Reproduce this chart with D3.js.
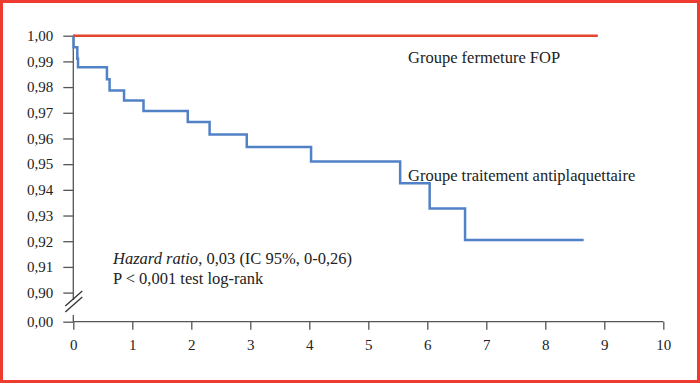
<!DOCTYPE html>
<html><head><meta charset="utf-8">
<script src="https://cdn.jsdelivr.net/npm/d3@7/dist/d3.min.js"></script>
<style>html,body{margin:0;padding:0;background:#fff;}svg{display:block;}
svg text{font-family:"Liberation Serif","Times New Roman",Times,"DejaVu Serif",serif;}</style>
</head><body><svg id="c" width="700" height="383"></svg>
<script>
// Data
const fopTimes = [0, 8.89];
const fopSurv = [1.0, 1.0];
const antiTimes = [0, 0.005, 0.068, 0.08, 0.57, 0.615, 0.86, 1.19, 1.94, 2.31, 2.94, 4.03, 5.54, 6.04, 6.64, 8.65];
const antiSurv  = [1.0, 0.9955, 0.991, 0.9877, 0.983, 0.9787, 0.9748, 0.9707, 0.9664, 0.9615, 0.9567, 0.9510, 0.9426, 0.9327, 0.9205, 0.9205];
const xTicks = [0,1,2,3,4,5,6,7,8,9,10];
const yTicks = [0, 0.90, 0.91, 0.92, 0.93, 0.94, 0.95, 0.96, 0.97, 0.98, 0.99, 1.00];
const labelFop = "Groupe fermeture FOP";
const labelAnti = "Groupe traitement antiplaquettaire";

const svg = d3.select("#c");
const axisCol = "#555";

// border
svg.append("rect").attr("x",1.5).attr("y",1.5).attr("width",697).attr("height",380)
  .attr("fill","none").attr("stroke","#ee3b2f").attr("stroke-width",3);

const x = d3.scaleLinear().domain([0,10]).range([73.3,663.3]);
const y = d3.scaleLinear().domain([0,0.90,1.00]).range([321.7,292.6,35.7]);
const loc = d3.formatLocale({decimal:",", thousands:" ", grouping:[3], currency:["",""]});
const fmt = loc.format(".2f");

// x axis
const gx = svg.append("g").attr("transform",`translate(0,${y(0)})`)
  .call(d3.axisBottom(x).tickValues(xTicks).tickSize(8).tickPadding(10).tickFormat(d3.format("d")));
gx.attr("font-family",null);
gx.select(".domain").attr("stroke",axisCol).attr("stroke-width",1.3).attr("d",`M${x(0)},0H${x(10)}`);
gx.selectAll(".tick line").attr("stroke",axisCol).attr("stroke-width",1.3);
gx.selectAll(".tick text").attr("font-size",15).attr("fill","#222");

// y axis (ticks only, break drawn separately)
const gy = svg.append("g").attr("transform",`translate(${x(0)},0)`)
  .call(d3.axisLeft(y).tickValues(yTicks).tickSize(10).tickPadding(10).tickFormat(fmt));
gy.attr("font-family",null);
gy.select(".domain").remove();
gy.selectAll(".tick line").attr("stroke",axisCol).attr("stroke-width",1.3);
gy.selectAll(".tick text").attr("font-size",15).attr("fill","#222");
const x0 = x(0);
svg.append("line").attr("x1",x0).attr("x2",x0).attr("y1",y(1.0)).attr("y2",300)
  .attr("stroke",axisCol).attr("stroke-width",1.3);
svg.append("line").attr("x1",x0).attr("x2",x0).attr("y1",315).attr("y2",y(0))
  .attr("stroke",axisCol).attr("stroke-width",1.3);
[[-8,306,9,291],[-8,312,9,297]].forEach(s=>{
  svg.append("line").attr("x1",x0+s[0]).attr("y1",s[1]).attr("x2",x0+s[2]).attr("y2",s[3])
    .attr("stroke","#333").attr("stroke-width",1.3);
});

// curves
const line = d3.line().x(d=>x(d[0])).y(d=>y(d[1])).curve(d3.curveStepAfter);
svg.append("path").datum(antiTimes.map((t,i)=>[t,antiSurv[i]]))
  .attr("d",line).attr("fill","none").attr("stroke","#5181c6").attr("stroke-width",2.5);
svg.append("path").datum(fopTimes.map((t,i)=>[t,fopSurv[i]]))
  .attr("d",line).attr("fill","none").attr("stroke","#e3452f").attr("stroke-width",2.5);

// labels
const txt = (xx,yy,s)=>svg.append("text").attr("x",xx).attr("y",yy)
  .attr("font-size",16.5).attr("fill","#222").text(s);
txt(408,63,labelFop);
txt(408,181,labelAnti);
const t1 = svg.append("text").attr("x",113).attr("y",264)
  .attr("font-size",16.5).attr("fill","#222");
t1.append("tspan").attr("font-style","italic").text("Hazard ratio");
t1.append("tspan").text(", 0,03 (IC 95%, 0-0,26)");
txt(113,284,"P < 0,001 test log-rank");
</script></body></html>
